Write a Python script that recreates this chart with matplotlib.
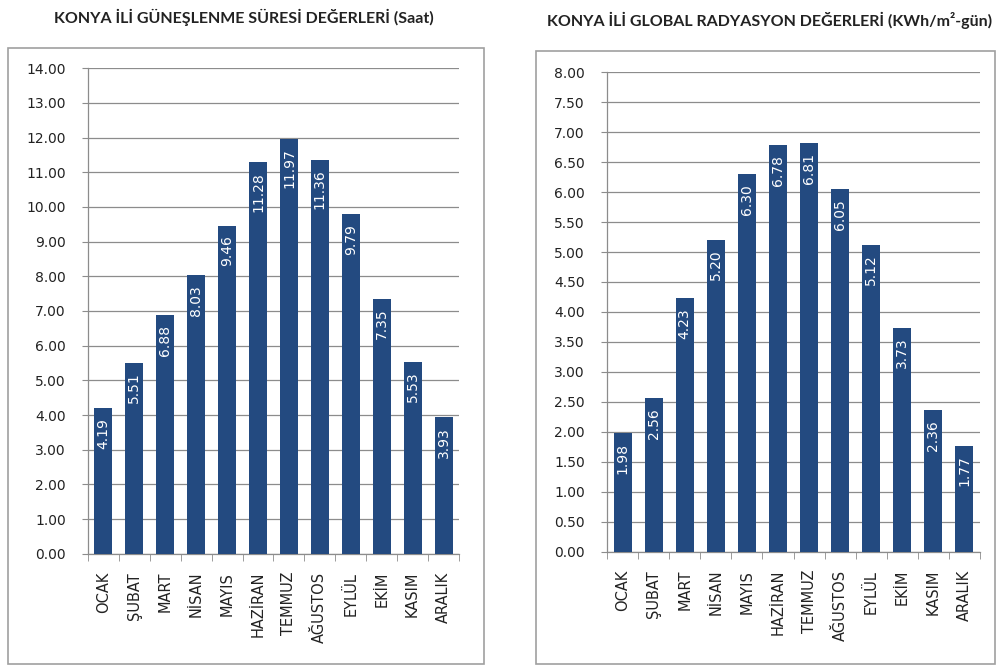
import numpy as np
import matplotlib
matplotlib.use("Agg")
import matplotlib.pyplot as plt
from matplotlib.patches import Rectangle

months = ["OCAK", "ŞUBAT", "MART", "NİSAN", "MAYIS", "HAZİRAN",
          "TEMMUZ", "AĞUSTOS", "EYLÜL", "EKİM", "KASIM", "ARALIK"]
sun_hours = [4.19, 5.51, 6.88, 8.03, 9.46, 11.28, 11.97, 11.36, 9.79, 7.35, 5.53, 3.93]
radiation = [1.98, 2.56, 4.23, 5.20, 6.30, 6.78, 6.81, 6.05, 5.12, 3.73, 2.36, 1.77]

sun_ticks = np.arange(0, 14.01, 1.0)
rad_ticks = np.arange(0, 8.01, 0.5)

bar_color = "#234a80"
grid_color = "#8c8c8c"
text_color = "#222222"

fig = plt.figure(figsize=(10, 6.68), dpi=100)

# chart frames
fig.patches.append(Rectangle((0.008, 0.006), 0.476, 0.922, transform=fig.transFigure,
                             fill=False, edgecolor="#a0a0a0", linewidth=1.2))
fig.patches.append(Rectangle((0.536, 0.006), 0.459, 0.918, transform=fig.transFigure,
                             fill=False, edgecolor="#a0a0a0", linewidth=1.2))


def draw_chart(ax, values, ticks):
    x = np.arange(len(values))
    ax.bar(x, values, width=0.58, color=bar_color, zorder=3)
    ax.set_xlim(-0.5, len(values) - 0.5)
    ax.set_ylim(ticks[0], ticks[-1])
    ax.set_yticks(ticks)
    ax.set_yticklabels([f"{t:.2f}" for t in ticks], fontsize=10, color=text_color)
    ax.yaxis.grid(True, color=grid_color, linewidth=0.9, zorder=0)
    ax.set_xticks(x)
    ax.set_xticklabels(months, rotation=90, fontsize=10.5, color=text_color)
    ax.tick_params(axis="x", length=0, pad=13)
    ax.set_xticks(np.arange(-0.5, len(values)), minor=True)
    ax.tick_params(axis="x", which="minor", length=5, color=grid_color)
    ax.tick_params(axis="y", length=4, color=grid_color, pad=12)
    for s in ["top", "right"]:
        ax.spines[s].set_visible(False)
    for s in ["left", "bottom"]:
        ax.spines[s].set_color(grid_color)
        ax.spines[s].set_linewidth(0.9)
    for xi, v in zip(x, values):
        ax.annotate(f"{v:.2f}", (xi, v), xytext=(0, -7), textcoords="offset points",
                    rotation=90, ha="center", va="top", color="white",
                    fontsize=10, zorder=4)


ax1 = fig.add_axes([0.088, 0.171, 0.371, 0.727])
draw_chart(ax1, sun_hours, sun_ticks)
fig.text(0.244, 0.974, "KONYA İLİ GÜNEŞLENME SÜRESİ DEĞERLERİ (Saat)",
         ha="center", va="center", fontsize=11.5, fontweight="bold",
         family="Lato", color=text_color)

ax2 = fig.add_axes([0.607, 0.174, 0.373, 0.718])
draw_chart(ax2, radiation, rad_ticks)
fig.text(0.770, 0.969, "KONYA İLİ GLOBAL RADYASYON DEĞERLERİ (KWh/m²-gün)",
         ha="center", va="center", fontsize=11.5, fontweight="bold",
         family="Lato", color=text_color)

fig.savefig("out.png", dpi=100)
